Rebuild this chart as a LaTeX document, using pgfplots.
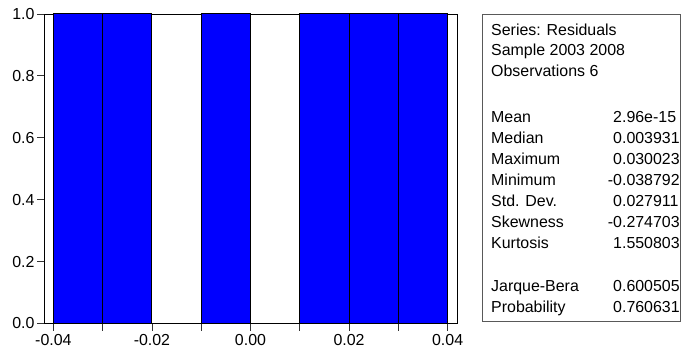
\documentclass[border=0pt]{standalone}
\usepackage{pgfplots}
\pgfplotsset{compat=1.18}
\usepackage{fontspec}
\setmainfont{Liberation Sans}
\begin{document}
\begin{tikzpicture}[x=1bp,y=1bp]
\path (0,0) rectangle (681,356);
\clip (0,0) rectangle (681,356);
\begin{axis}[at={(44bp,32.5bp)}, anchor=south west, scale only axis,
  width=413bp, height=309.5bp,
  xmin=-0.0419, xmax=0.0419, ymin=0, ymax=1,
  xtick={-0.04,-0.02,0,0.02,0.04}, minor xtick={-0.03,-0.01,0.01,0.03},
  ytick={0,0.2,0.4,0.6,0.8,1.0},
  tick align=outside, tick pos=left,
  major tick length=7bp, minor tick length=7bp,
  scaled x ticks=false, scaled y ticks=false,
  ticklabel style={font=\fontsize{16}{18}\selectfont},
  xticklabel style={/pgf/number format/.cd, fixed, fixed zerofill, precision=2},
  yticklabel style={xshift=1bp, /pgf/number format/.cd, fixed, fixed zerofill, precision=1},
  /pgf/number format/assume math mode=true,
  axis line style={black, line width=0.8pt},
  tick style={black!80, line width=0.8pt},
]
\addplot[ybar interval, fill=blue, draw=black, line width=1pt] coordinates {
  (-0.04,1) (-0.03,1) (-0.02,0) (-0.01,1) (0.00,0) (0.01,1) (0.02,1) (0.03,1) (0.04,1)
};
\end{axis}
\draw[black!65, line width=0.9pt] (482,35) rectangle (680.5,342);
\begin{scope}[every node/.style={anchor=base west, inner sep=0pt, font=\fontsize{16}{19}\selectfont}]
\node at (491,321) {Series: Residuals};
\node at (491,300.5) {Sample 2003 2008};
\node at (491,280) {Observations 6};
\node at (491,233.7) {Mean};        \node at (613,233.7) {2.96e-15};
\node at (491,212.6) {Median};      \node at (613,212.6) {0.003931};
\node at (491,191.5) {Maximum};     \node at (613,191.5) {0.030023};
\node at (491,170.4) {Minimum};     \node at (607.7,170.4) {-0.038792};
\node at (491,149.3) {Std. Dev.};   \node at (613,149.3) {0.027911};
\node at (491,128.2) {Skewness};    \node at (607.7,128.2) {-0.274703};
\node at (491,107.1) {Kurtosis};    \node at (613,107.1) {1.550803};
\node at (491,64.5) {Jarque-Bera};  \node at (613,64.5) {0.600505};
\node at (491,43.4) {Probability};  \node at (613,43.4) {0.760631};
\end{scope}
\end{tikzpicture}
\end{document}
